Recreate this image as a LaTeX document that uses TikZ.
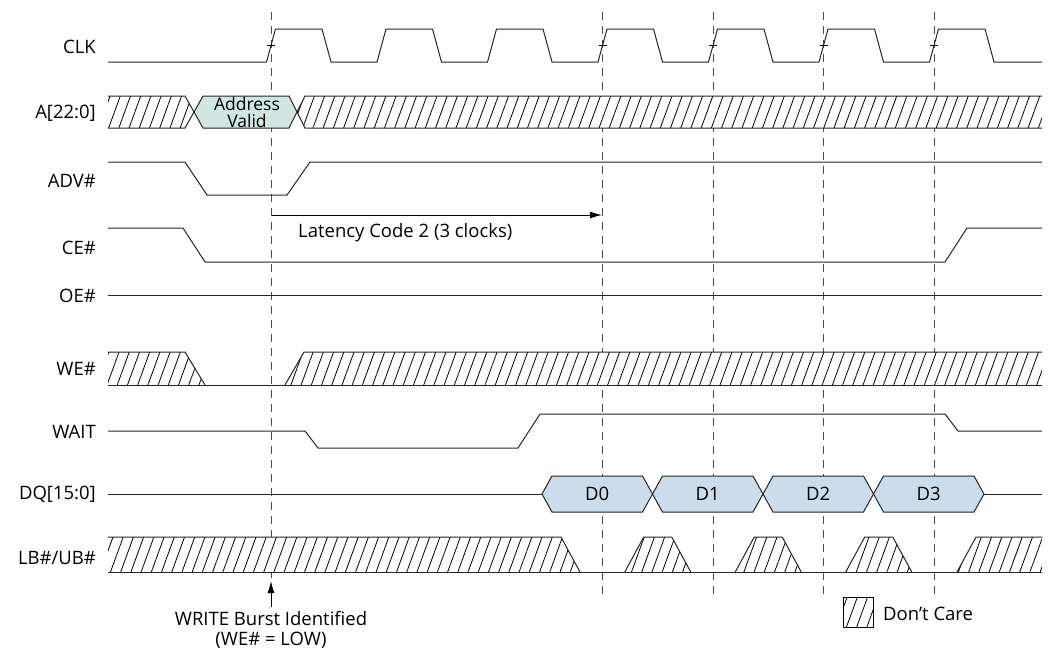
\documentclass[tikz,border=0pt]{standalone}
\usepackage{fontspec}
\setmainfont{Open Sans}
\usetikzlibrary{arrows.meta,patterns.meta,positioning}
\definecolor{avfill}{RGB}{207,230,225}
\definecolor{dqfill}{RGB}{205,220,234}

\begin{document}
\begin{tikzpicture}[x=1pt,y=-1pt,line join=miter]
\tikzstyle{sig}=[line width=1pt,draw=black!85]
\tikzstyle{dc}=[preaction={fill=white},pattern={Lines[angle=70,distance=9.6pt,line width=0.8pt]}]
\tikzstyle{guide}=[dash pattern=on 8pt off 6pt,line width=0.9pt,draw=black!70]
\tikzstyle{lbl}=[anchor=east,inner sep=0pt,font=\fontsize{18.5}{20}\selectfont]
\tikzstyle{txt}=[inner sep=1pt,font=\fontsize{18.5}{20}\selectfont]
\useasboundingbox (0,0) rectangle (1052,651);

% signal names
\node[lbl] (clk)  at (96,47)  {CLK};
\node[lbl] (addr) at (96,113) {A[22:0]};
\node[lbl] (adv)  at (96,181) {ADV\#};
\node[lbl] (ce)   at (96,248) {CE\#};
\node[lbl] (oe)   at (96,296) {OE\#};
\node[lbl] (we)   at (96,369) {WE\#};
\node[lbl] (wait) at (96,432) {WAIT};
\node[lbl] (dq)   at (96,494) {DQ[15:0]};
\node[lbl] (lb)   at (96,558) {LB\#/UB\#};

% clock edge guides
\draw[guide] (271,12) -- (271,578);
\foreach \k in {3,4,5,6}
  \draw[guide] ({271+110.5*\k},12) -- ({271+110.5*\k},595);

% CLK
\draw[sig] (108,62) \foreach \k in {0,...,6} {
  -- ({266.5+110.5*\k},62) -- ({275.5+110.5*\k},29)
  -- ({322+110.5*\k},29) -- ({331+110.5*\k},62) } -- (1042,62);
\foreach \k in {0,3,4,5,6}
  \draw[line width=0.8pt] ({267+110.5*\k},45) -- ({275+110.5*\k},45);

% A[22:0]
\fill[dc] (108,96) -- (185,96) -- (194,112) -- (185,128) -- (108,128) -- cycle;
\fill[dc] (1042,96) -- (305,96) -- (297,112) -- (305,128) -- (1042,128) -- cycle;
\filldraw[sig,fill=avfill] (194,112) -- (203,96) -- (289,96) -- (297,112) -- (289,128) -- (203,128) -- cycle;
\draw[sig] (108,96) -- (185,96) -- (194,112) -- (185,128) -- (108,128);
\draw[sig] (1042,96) -- (305,96) -- (297,112) -- (305,128) -- (1042,128);
\node[inner sep=0pt,font=\fontsize{17.5}{17}\selectfont] (addrtxt) at (247,104) {Address};
\node[inner sep=0pt,font=\fontsize{17.5}{17}\selectfont] (validtxt) at (247,120.5) {Valid};

% ADV#
\draw[sig] (108,162) -- (185,162) -- (207,195) -- (287,195) -- (310,162) -- (1042,162);

% latency
\coordinate (lat0) at (272,215);
\coordinate (lat1) at (602,215);
\draw[line width=0.9pt,-{Latex[length=12pt,width=7pt]}] (lat0) -- (lat1);
\node[txt,anchor=west] (latency) at (297,233) {Latency Code 2 (3 clocks)};

% CE#
\draw[sig] (108,228) -- (183,228) -- (205,262) -- (945,262) -- (967,228) -- (1042,228);

% OE#
\draw[sig] (108,295) -- (1042,295);

% WE#
\fill[dc] (108,352) -- (185,352) -- (205,385) -- (108,385) -- cycle;
\fill[dc] (285,385) -- (304,352) -- (1042,352) -- (1042,385) -- cycle;
\draw[sig] (108,352) -- (185,352) -- (205,385);
\draw[sig] (285,385) -- (304,352) -- (1042,352);
\draw[sig] (108,385) -- (1042,385);

% WAIT
\draw[sig] (108,431) -- (305,431) -- (318,448) -- (518,448) -- (540,414) -- (945,414) -- (958,431) -- (1042,431);

% DQ[15:0]
\draw[sig] (108,494) -- (542,494);
\draw[sig] (984,494) -- (1042,494);
\foreach \i in {0,1,2,3} {
  \filldraw[sig,fill=dqfill] ({542+110.5*\i},494) -- ({552+110.5*\i},476)
    -- ({642.5+110.5*\i},476) -- ({652.5+110.5*\i},494)
    -- ({642.5+110.5*\i},512) -- ({552+110.5*\i},512) -- cycle;
  \node[txt] (d\i) at ({597.25+110.5*\i},494) {D\i};
}

% LB#/UB#
\fill[dc] (108,537) -- (561,537) -- (580,572) -- (108,572) -- cycle;
\draw[sig] (108,537) -- (561,537) -- (580,572);
\foreach \c in {657.75,768.25,878.75} {
  \fill[dc] ({\c-33},572) -- ({\c-14},537) -- ({\c+14},537) -- ({\c+33},572) -- cycle;
  \draw[sig] ({\c-33},572) -- ({\c-14},537) -- ({\c+14},537) -- ({\c+33},572);
}
\fill[dc] (957,572) -- (976,537) -- (1042,537) -- (1042,572) -- cycle;
\draw[sig] (957,572) -- (976,537) -- (1042,537);
\draw[sig] (108,572) -- (1042,572);

% write burst
\coordinate (wtip) at (271,581);
\coordinate (wtail) at (271,607);
\draw[line width=0.9pt,-{Latex[length=12pt,width=7pt]}] (wtail) -- (wtip);
\node[txt,align=center] (burst) at (271,630) {WRITE Burst Identified\\(WE\# = LOW)};

% legend
\draw[dc,line width=0.9pt] (843,597) rectangle (873,627);
\node[txt,anchor=west] (dcare) at (882,614) {Don’t Care};
\end{tikzpicture}
\end{document}
